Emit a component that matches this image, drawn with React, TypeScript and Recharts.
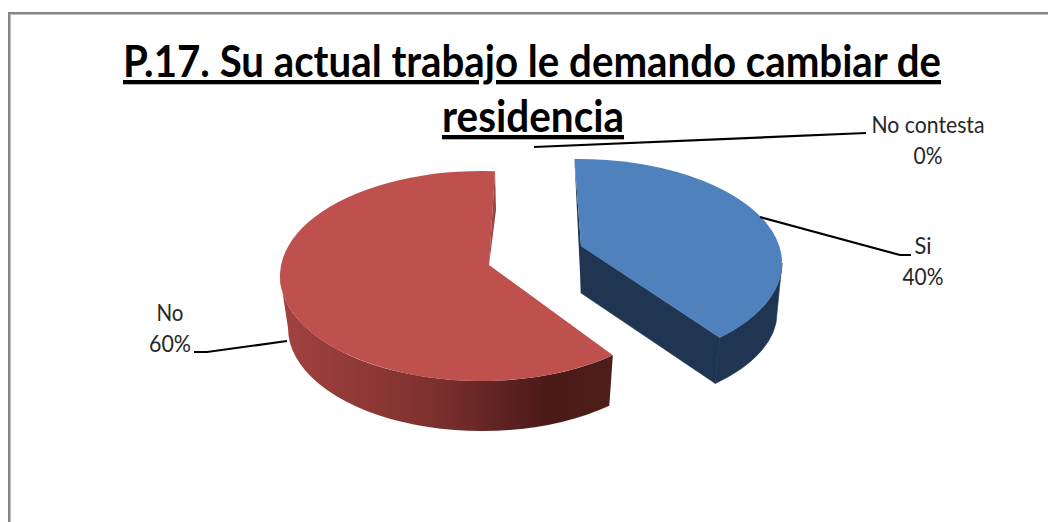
import { PieChart, Pie } from "recharts";

const CATEGORIES = ["Si", "No", "No contesta"];
const VALUES = [40, 60, 0];
const TITLE_LINES = ["P.17. Su actual trabajo le demando cambiar de", "residencia"];

const data = CATEGORIES.map((name, i) => ({ name, value: VALUES[i] }));

const FONT = "Lato, sans-serif";
const CX = 530;
const CY = 270;
const R = 200;

// 3D look: each slice is offset from the pie centre and squashed into an ellipse.
// shift0/shift1 bend the start/end angle a little to fake the perspective.
const SLICES: Record<string, any> = {
  Si: {
    dx: 48, dy: -7, rx: 204, ry: 104,
    bdx: 45, bdy: 43, brx: 202, bry: 98,
    ax: 581, ay: 246, shift0: -1, shift1: -8,
    top: "#4F81BD", side: "#1F3552",
  },
  No: {
    dx: -49, dy: 6, rx: 201, ry: 105,
    bdx: -48, bdy: 58, brx: 194, bry: 103,
    ax: 489, ay: 265, shift0: -5, shift1: 4,
    top: "#BE504D", side: "url(#redSide)",
  },
};

// leader lines and label anchors, plain picture pixels
const LABELS: Record<string, any> = {
  Si: { line: "M760,217 L900,255 L911,255", x: 923, y1: 254, y2: 285, w1: 17, w2: 41 },
  No: { line: "M287,341 L207,352 L194,352", x: 170, y1: 321, y2: 352, w1: 27, w2: 42 },
  "No contesta": { line: "M534,147 L866,133", x: 928, y1: 133, y2: 164, w1: 113, w2: 29 },
};

const rad = (d: number) => (d * Math.PI) / 180;

function Slice3D(props: any) {
  const { cx, cy, startAngle, endAngle, name } = props;
  const s = SLICES[name];
  if (!s || startAngle === endAngle) return null;

  // recharts angles are counter-clockwise from 3 o'clock, here clockwise from 12
  const a0 = 90 - startAngle + s.shift0;
  const a1 = 90 - endAngle + s.shift1;

  const tx = cx + s.dx;
  const ty = cy + s.dy;
  const bx = cx + s.bdx;
  const by = cy + s.bdy;
  const onTop = (a: number) => [tx + s.rx * Math.sin(rad(a)), ty - s.ry * Math.cos(rad(a))];
  const onBot = (a: number) => [bx + s.brx * Math.sin(rad(a)), by - s.bry * Math.cos(rad(a))];

  const p0 = onTop(a0);
  const p1 = onTop(a1);
  const large = a1 - a0 > 180 ? 1 : 0;
  const topPath = `M${s.ax},${s.ay} L${p0[0]},${p0[1]} A${s.rx},${s.ry} 0 ${large} 1 ${p1[0]},${p1[1]} Z`;

  // only the front half of the rim can be seen
  const w0 = Math.max(a0, 90);
  const w1 = Math.min(a1, 270);
  const t0 = onTop(w0);
  const t1 = onTop(w1);
  const b0 = onBot(w0);
  const b1 = onBot(w1);
  const wall = `M${t0[0]},${t0[1]} A${s.rx},${s.ry} 0 0 1 ${t1[0]},${t1[1]} L${b1[0]},${b1[1]} A${s.brx},${s.bry} 0 0 0 ${b0[0]},${b0[1]} Z`;

  const depth = by - ty;
  return (
    <g>
      <defs>
        <linearGradient id="redSide" gradientUnits="userSpaceOnUse" x1={280} y1={0} x2={613} y2={0}>
          <stop offset="0" stopColor="#A2423F" />
          <stop offset="0.45" stopColor="#7E312F" />
          <stop offset="0.8" stopColor="#4B1A18" />
          <stop offset="1" stopColor="#4E1E1B" />
        </linearGradient>
      </defs>
      {name === "Si" && (
        <>
          {/* cut faces that look towards the viewer */}
          <path
            d={`M${s.ax},${s.ay} L${p1[0]},${p1[1]} L${onBot(a1)[0]},${onBot(a1)[1]} L${s.ax},${s.ay + depth - 3} Z`}
            fill={s.side}
            stroke={s.side}
            strokeWidth={0.6}
          />
          <path d={`M${p0[0]},${p0[1]} L${s.ax},${s.ay + depth - 3} L${s.ax},${s.ay} Z`} fill={s.side} />
        </>
      )}
      <path d={wall} fill={s.side} stroke={name === "Si" ? s.side : "none"} strokeWidth={0.6} />
      <path d={topPath} fill={s.top} />
      {name === "No" && (
        <path
          d={`M${p1[0]},${p1[1]} L${p1[0] + 1},${s.ay - 55} L${s.ax},${s.ay} L${p1[0] - 2.5},${s.ay - 55} Z`}
          fill="#9A4543"
        />
      )}
    </g>
  );
}

function renderLabel(props: any) {
  const { name, percent } = props;
  const l = LABELS[name];
  if (!l) return null;
  const style = { fontFamily: FONT, fontSize: 23, fill: "#262626" };
  return (
    <g>
      <path d={l.line} fill="none" stroke="#000" strokeWidth={2.2} />
      <text x={l.x} y={l.y1} textAnchor="middle" textLength={l.w1} lengthAdjust="spacingAndGlyphs" style={style}>
        {name}
      </text>
      <text x={l.x} y={l.y2} textAnchor="middle" textLength={l.w2} lengthAdjust="spacingAndGlyphs" style={style}>
        {`${Math.round(percent * 100)}%`}
      </text>
    </g>
  );
}

export default function App() {
  const titleStyle = { fontFamily: FONT, fontSize: 43, fontWeight: 700, textDecoration: "underline", fill: "#000" };
  return (
    <div style={{ position: "absolute", left: 0, top: 0, width: 1048, height: 522, background: "#fff", overflow: "hidden" }}>
      {/* chart frame, runs off the right and bottom of the picture */}
      <div
        style={{
          position: "absolute",
          left: 8,
          top: 12,
          width: 1100,
          height: 600,
          borderLeft: "2px solid #868686",
          borderTop: "2px solid #868686",
          boxShadow: "inset 1px 1px 0 #bdbdbd",
        }}
      />
      <div style={{ position: "absolute", left: 0, top: 0 }}>
        <PieChart width={1048} height={522} margin={{ top: 0, right: 0, bottom: 0, left: 0 }}>
          <text x={532} y={77} textAnchor="middle" textLength={818} lengthAdjust="spacingAndGlyphs" style={titleStyle}>
            {TITLE_LINES[0]}
          </text>
          <text x={533} y={132} textAnchor="middle" textLength={182} lengthAdjust="spacingAndGlyphs" style={titleStyle}>
            {TITLE_LINES[1]}
          </text>
          <Pie
            data={data}
            dataKey="value"
            nameKey="name"
            cx={CX}
            cy={CY}
            outerRadius={R}
            startAngle={90}
            endAngle={-270}
            stroke="none"
            shape={Slice3D}
            label={renderLabel}
            labelLine={false}
            isAnimationActive={false}
          />
        </PieChart>
      </div>
    </div>
  );
}
